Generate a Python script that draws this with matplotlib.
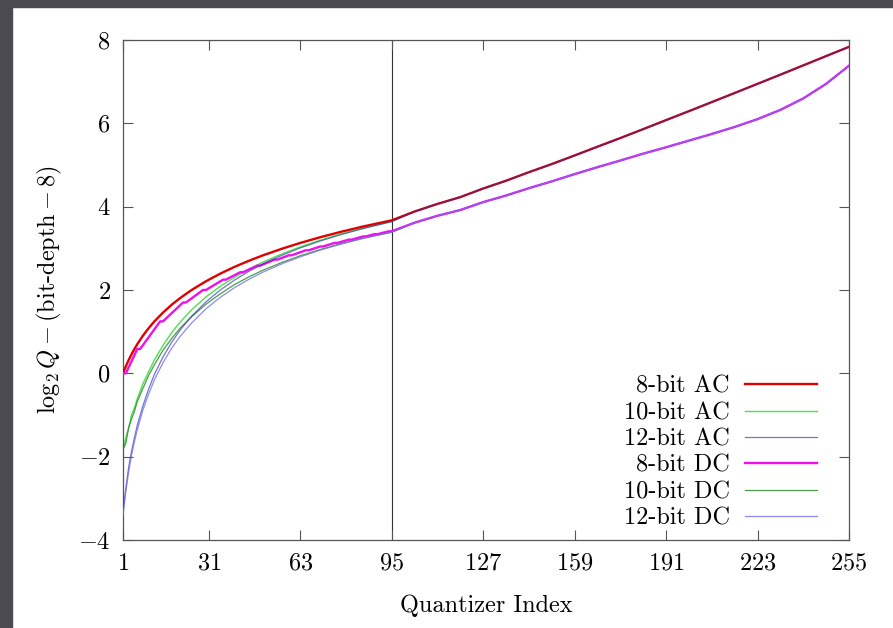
import matplotlib
matplotlib.use("Agg")
import matplotlib.pyplot as plt
from matplotlib.patches import Rectangle

plt.rcParams['font.family'] = ['cmr10', 'DejaVu Serif']
plt.rcParams['mathtext.fontset'] = 'cm'
plt.rcParams['axes.formatter.use_mathtext'] = True

# quantizer indices sampled along the curves
idx_head = [1, 2, 3, 4, 5, 6, 8, 10, 12, 15, 18, 21, 25, 30, 35, 40, 45, 50,
            57, 63, 70, 77, 85, 95]
idx_tail = [103, 111, 119, 127, 135, 143, 151, 159, 167, 175, 183, 191, 199,
            207, 215, 223, 231, 239, 247, 255]

# 8-bit DC has visible plateaus, so it gets its own index list
idx_dc8_head = [1, 2, 6, 7, 14, 15, 22, 23, 29, 30, 36, 37, 42, 43, 48, 49,
                54, 55, 59, 60, 65, 66, 70, 71, 75, 76, 80, 81, 85, 86, 89, 90,
                94, 95]

# log2 Q - (bit-depth - 8)
ac8_head = [0.0, 0.170, 0.322, 0.459, 0.585, 0.700, 0.907, 1.087, 1.248,
            1.459, 1.644, 1.807, 2.0, 2.209, 2.392, 2.555, 2.700, 2.833,
            3.0, 3.129, 3.267, 3.392, 3.524, 3.672]
ac10_head = [-1.830, -1.541, -1.300, -1.0, -0.830, -0.608, -0.245, 0.044,
             0.322, 0.672, 0.977, 1.229, 1.524, 1.833, 2.087, 2.304, 2.500,
             2.672, 2.877, 3.034, 3.195, 3.340, 3.484, 3.647]
ac12_head = [-3.299, -2.752, -2.245, -1.871, -1.541, -1.245, -0.771, -0.371,
             -0.023, 0.392, 0.742, 1.039, 1.371, 1.714, 1.997, 2.238, 2.447,
             2.627, 2.845, 3.009, 3.176, 3.324, 3.474, 3.639]
ac_tail = [3.883, 4.066, 4.229, 4.435, 4.622, 4.827, 5.022, 5.229, 5.439,
           5.647, 5.861, 6.077, 6.292, 6.510, 6.728, 6.948, 7.168, 7.391,
           7.614, 7.836]

dc8_head = [0.0, 0.0, 0.585, 0.585, 1.248, 1.248, 1.700, 1.700, 2.0, 2.0,
            2.248, 2.248, 2.426, 2.426, 2.585, 2.585, 2.728, 2.728, 2.833,
            2.833, 2.954, 2.954, 3.044, 3.044, 3.129, 3.129, 3.209, 3.209,
            3.285, 3.285, 3.340, 3.340, 3.409, 3.409]
dc10_head = [-1.830, -1.678, -1.300, -1.093, -0.913, -0.678, -0.356, -0.046,
             0.209, 0.554, 0.833, 1.087, 1.358, 1.658, 1.907, 2.129, 2.313,
             2.476, 2.672, 2.820, 2.972, 3.109, 3.248, 3.384]
dc12_head = [-3.415, -2.830, -2.356, -1.956, -1.642, -1.356, -0.871, -0.492,
             -0.154, 0.257, 0.600, 0.889, 1.209, 1.547, 1.823, 2.055, 2.255,
             2.430, 2.640, 2.796, 2.956, 3.095, 3.236, 3.390]
dc_tail = [3.615, 3.781, 3.919, 4.109, 4.267, 4.443, 4.607, 4.781, 4.948,
           5.108, 5.272, 5.426, 5.585, 5.745, 5.913, 6.101, 6.322, 6.598,
           6.948, 7.384]

labels = ['8-bit AC', '10-bit AC', '12-bit AC', '8-bit DC', '10-bit DC', '12-bit DC']
xticks = [1, 31, 63, 95, 127, 159, 191, 223, 255]
yticks = [-4, -2, 0, 2, 4, 6, 8]

fig = plt.figure(figsize=(8.93, 6.28), dpi=100)
# dark viewer frame at the left and top of the screenshot
fig.patches.append(Rectangle((0, 0), 12 / 893, 1, transform=fig.transFigure,
                             color='#4a4a50', zorder=-10))
fig.patches.append(Rectangle((0, 1 - 7 / 628), 1, 7 / 628, transform=fig.transFigure,
                             color='#4a4a50', zorder=-10))
ax = fig.add_axes([123 / 893, 88 / 628, 726 / 893, 500 / 628])

# (x, y, colour, width, alpha, zorder) -- green lines sit under the thick ones,
# blue/lavender lie over them so the shared tails blend to maroon / purple
series = [
    (idx_head + idx_tail, ac8_head + ac_tail, '#e00000', 1.7, 1.0, 3),
    (idx_head + idx_tail, ac10_head + ac_tail, '#4ee04e', 1.0, 1.0, 2),
    (idx_head + idx_tail, ac12_head + ac_tail, '#2a2ab4', 0.9, 0.65, 4),
    (idx_dc8_head + idx_tail, dc8_head + dc_tail, '#ee10ee', 1.7, 1.0, 3),
    (idx_head + idx_tail, dc10_head + dc_tail, '#2e8b2e', 0.9, 0.85, 2),
    (idx_head + idx_tail, dc12_head + dc_tail, '#7070ee', 0.9, 0.8, 4),
]
for (x, y, c, lw, a, z), lab in zip(series, labels):
    ax.plot(x, y, color=c, lw=lw, alpha=a, zorder=z, label=lab)

ax.axvline(95, color='#333333', lw=0.8, zorder=1)

ax.set_xlim(1, 255)
ax.set_ylim(-4, 8)
ax.set_xticks(xticks)
ax.set_xticklabels(['$%d$' % v for v in xticks])
ax.set_yticks(yticks)
ax.set_yticklabels(['$%d$' % v for v in yticks])
ax.tick_params(direction='in', length=7, width=0.8, color='#555555',
               top=True, right=True, labelsize=17.5, pad=9)
for s in ax.spines.values():
    s.set_color('#555555')
    s.set_linewidth(0.9)

ax.set_xlabel('Quantizer Index', fontsize=17.5, labelpad=14)
ax.set_ylabel(r'$\log_2 Q - (\mathrm{bit}$-$\mathrm{depth} - 8)$', fontsize=17.5,
              labelpad=10)

ax.legend(loc='lower right', bbox_to_anchor=(0.97, 0.002), frameon=False,
          markerfirst=False, fontsize=17.5, handlelength=3.0,
          labelspacing=0.17, handletextpad=0.6, borderaxespad=0)

fig.savefig('out.png', dpi=100)
